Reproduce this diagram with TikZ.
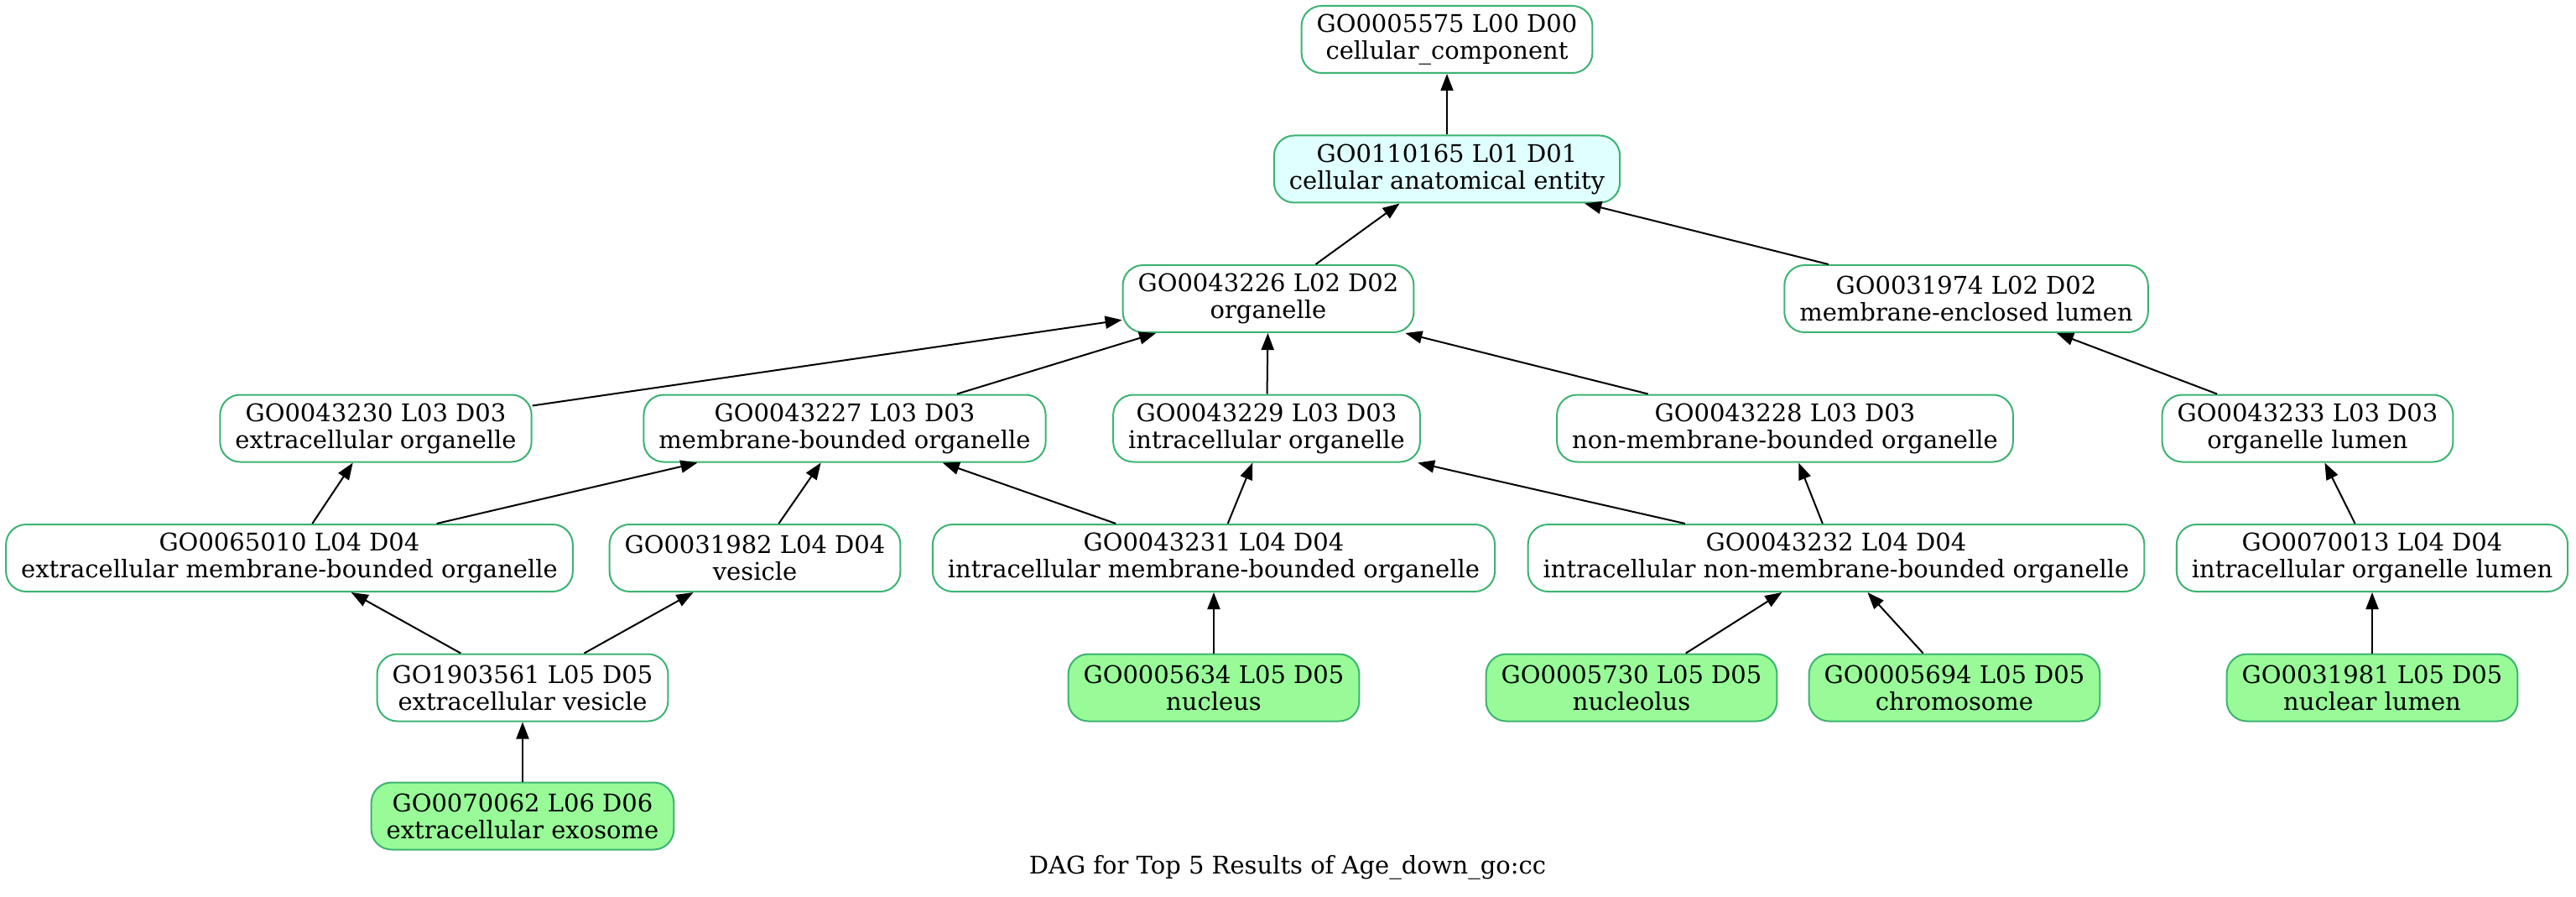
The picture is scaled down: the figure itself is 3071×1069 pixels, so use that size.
\documentclass[tikz,border=0pt]{standalone}
\usepackage{fontspec}
\setmainfont{DejaVu Serif}
\usetikzlibrary{arrows.meta}
\definecolor{goline}{HTML}{3CB371}
\definecolor{gohit}{HTML}{98FB98}
\definecolor{gotop}{HTML}{E0FFFF}

\begin{document}
\begin{tikzpicture}[x=0.5pt,y=-0.5pt,
    term/.style={draw=goline,line width=1pt,rounded corners=12pt,fill=white,
      align=center,inner xsep=9pt,inner ysep=0pt,minimum height=40pt,
      font=\fontsize{14.5}{16}\selectfont},
    hit/.style={term,fill=gohit},
    top/.style={term,fill=gotop},
    edge/.style={line width=1pt,-{Triangle[length=10pt,width=7.5pt]}}]
        \useasboundingbox (0,0) rectangle (3071,1069);

        % level 0 and 1
        \node[term] (n5575) at (1725,47) {GO0005575 L00 D00\\cellular\_component};
        \node[top] (n110165) at (1725,201.5) {GO0110165 L01 D01\\cellular anatomical entity};

        % level 2
        \node[term] (n43226) at (1512,356) {GO0043226 L02 D02\\organelle};
        \node[term] (n31974) at (2344,356) {GO0031974 L02 D02\\membrane-enclosed lumen};

        % level 3
        \node[term] (n43230) at (448,510.5) {GO0043230 L03 D03\\extracellular organelle};
        \node[term] (n43227) at (1007,510.5) {GO0043227 L03 D03\\membrane-bounded organelle};
        \node[term] (n43229) at (1510,510.5) {GO0043229 L03 D03\\intracellular organelle};
        \node[term] (n43228) at (2128,510.5) {GO0043228 L03 D03\\non-membrane-bounded organelle};
        \node[term] (n43233) at (2751,510.5) {GO0043233 L03 D03\\organelle lumen};

        % level 4
        \node[term] (n65010) at (345,665) {GO0065010 L04 D04\\extracellular membrane-bounded organelle};
        \node[term] (n31982) at (900,665) {GO0031982 L04 D04\\vesicle};
        \node[term] (n43231) at (1447,665) {GO0043231 L04 D04\\intracellular membrane-bounded organelle};
        \node[term] (n43232) at (2189,665) {GO0043232 L04 D04\\intracellular non-membrane-bounded organelle};
        \node[term] (n70013) at (2828,665) {GO0070013 L04 D04\\intracellular organelle lumen};

        % level 5 and 6
        \node[term] (n1903561) at (623,819.5) {GO1903561 L05 D05\\extracellular vesicle};
        \node[hit] (n5634) at (1447,819.5) {GO0005634 L05 D05\\nucleus};
        \node[hit] (n5730) at (1945,819.5) {GO0005730 L05 D05\\nucleolus};
        \node[hit] (n5694) at (2330,819.5) {GO0005694 L05 D05\\chromosome};
        \node[hit] (n31981) at (2828,819.5) {GO0031981 L05 D05\\nuclear lumen};
        \node[hit] (n70062) at (623,972.5) {GO0070062 L06 D06\\extracellular exosome};

        \foreach \c/\p in {n110165/n5575,n43226/n110165,n31974/n110165,
            n43230/n43226,n43227/n43226,n43229/n43226,n43228/n43226,n43233/n31974,
            n65010/n43230,n65010/n43227,n31982/n43227,n43231/n43227,n43231/n43229,
            n43232/n43229,n43232/n43228,n70013/n43233,
            n1903561/n65010,n1903561/n31982,n5634/n43231,n5730/n43232,n5694/n43232,
            n31981/n70013,n70062/n1903561} {
          \draw[edge] (\c) -- (\p);
        }

        \node[font=\fontsize{14.5}{16}\selectfont] (caption) at (1535,1034) {DAG for Top 5 Results of Age\_down\_go:cc};
      \end{tikzpicture}
\end{document}
